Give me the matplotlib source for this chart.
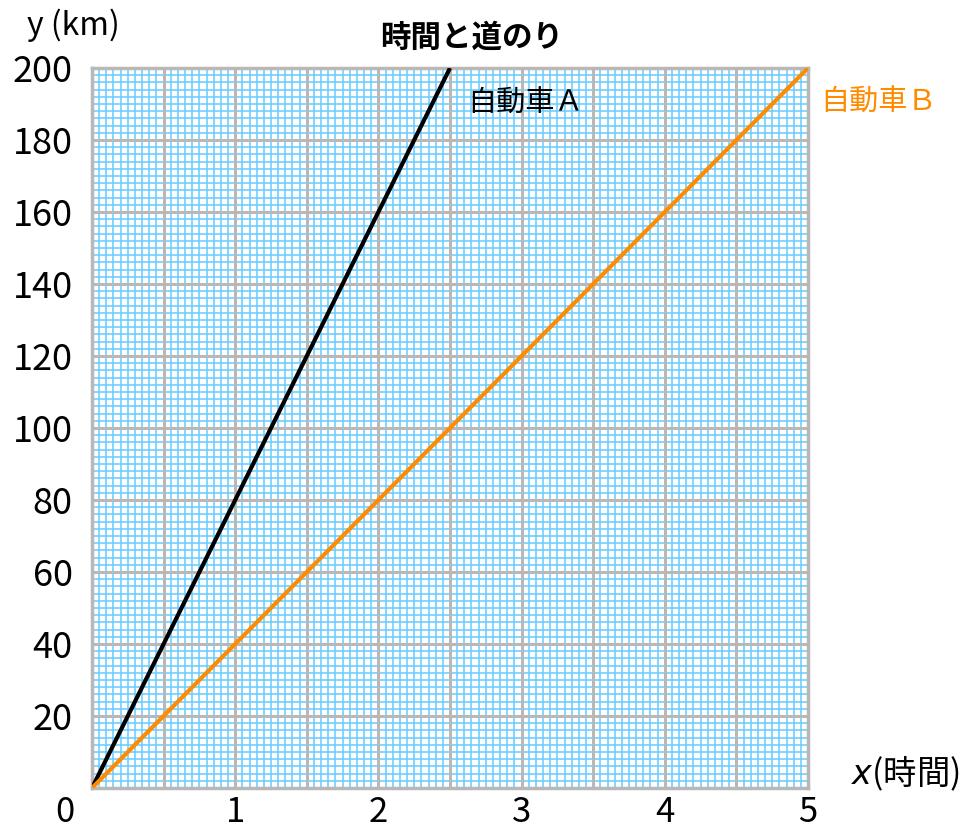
import numpy as np
import matplotlib
matplotlib.use("Agg")
import matplotlib.pyplot as plt

plt.rcParams["font.family"] = ["Noto Sans CJK JP", "DejaVu Sans"]

# データ: 時間 (h) と道のり (km)
hours_a = [0, 2.5]
dist_a = [0, 200]
hours_b = [0, 5]
dist_b = [0, 200]
x_ticks = [1, 2, 3, 4, 5]
y_ticks = [20, 40, 60, 80, 100, 120, 140, 160, 180, 200]

GRAY = "#b8b8b8"
BLUE = "#66ccff"
ORANGE = "#ff8c00"

fig = plt.figure(figsize=(9.75, 8.34), dpi=100)
ax = fig.add_axes([92/975, 1-788/834, (808-92)/975, (788-68)/834])
ax.set_xlim(0, 5); ax.set_ylim(0, 200)

# 方眼: 細線 (0.05 h, 2 km) と太線 (0.5 h, 20 km)
for x in np.arange(0, 5.001, 0.05):
    ax.axvline(x, color=BLUE, lw=1.1, zorder=1)
for y in np.arange(0, 200.01, 2):
    ax.axhline(y, color=BLUE, lw=1.1, zorder=1)
for x in np.arange(0, 5.001, 0.5):
    ax.axvline(x, color=GRAY, lw=2.2, zorder=2)
for y in np.arange(0, 200.01, 20):
    ax.axhline(y, color=GRAY, lw=2.2, zorder=2)
for s in ax.spines.values():
    s.set_color(GRAY); s.set_linewidth(2.5)

ax.plot(hours_a, dist_a, color="black", lw=3, zorder=4, solid_capstyle="butt")
ax.plot(hours_b, dist_b, color=ORANGE, lw=3, zorder=4, solid_capstyle="butt")

ax.set_xticks(x_ticks)
ax.set_xticklabels([str(v) for v in x_ticks], fontsize=25)
ax.set_yticks(y_ticks)
ax.set_yticklabels([str(v) for v in y_ticks], fontsize=26)
ax.tick_params(axis="x", length=0, pad=5)
ax.tick_params(axis="y", length=0, pad=14)

fig.text(65/975, 1-813/834, "0", fontsize=25, ha="center", va="center")
fig.text(73/975, 1-25/834, "y (km)", fontsize=23, ha="center", va="center")
fig.text(905/975, 1-773/834, r"$x$(時間)", fontsize=24, ha="center", va="center")
fig.text(472/975, 1-38/834, "時間と道のり", fontsize=22, fontweight="bold",
         ha="center", va="center")
ax.text(2.62, 190, "自動車Ａ", fontsize=21, ha="left", va="center", zorder=5)
fig.text(820/975, 1-103/834, "自動車Ｂ", fontsize=21, color=ORANGE,
         ha="left", va="center")

fig.savefig("out.png", dpi=100)
